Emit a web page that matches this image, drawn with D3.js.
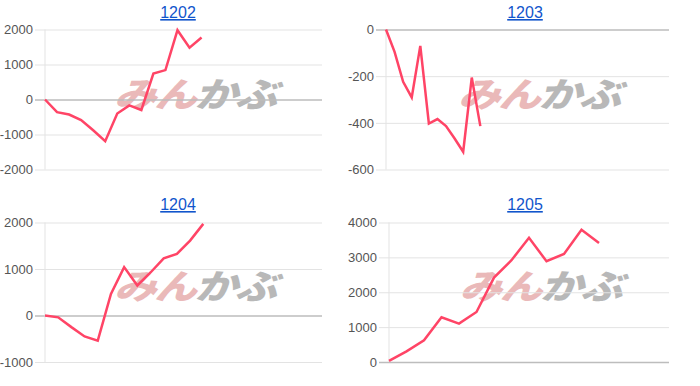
<!DOCTYPE html>
<html>
<head>
<meta charset="utf-8">
<script src="https://cdn.jsdelivr.net/npm/d3@7"></script>
<style>
  body { margin: 0; background: #fff; }
  svg { font-family: "Liberation Sans", Arial, sans-serif; }
</style>
</head>
<body>
<svg id="chart" width="700" height="386"></svg>
<script>
// chart titles and values
const titles = ["1202", "1203", "1204", "1205"];
const values1202 = [0, -360, -430, -590, -880, -1190, -400, -170, -300, 740, 840, 1980, 1480, 1770];
const values1203 = [0, -96, -224, -291, -70, -403, -384, -414, -467, -524, -206, -414];
const values1204 = [0, -40, -250, -450, -540, 465, 1040, 645, 925, 1230, 1325, 1610, 1970];
const values1205 = [30, 305, 620, 1280, 1100, 1435, 2420, 2920, 3560, 2890, 3100, 3790, 3410];
const xSlots = [23, 33, 21, 16];
const yDomains = [[-2000, 2000], [-600, 0], [-1000, 2000], [0, 4000]];
const yTicks = [
  [-2000, -1000, 0, 1000, 2000],
  [-600, -400, -200, 0],
  [-1000, 0, 1000, 2000],
  [0, 1000, 2000, 3000, 4000]
];

const series = [values1202, values1203, values1204, values1205];
const boxes = [
  { left: 45, right: 322, top: 29.5, bottom: 169.5, titleX: 178, titleY: 18 },
  { left: 386, right: 669, top: 29.5, bottom: 169.5, titleX: 525, titleY: 18 },
  { left: 45, right: 322, top: 222.5, bottom: 362, titleX: 178, titleY: 210 },
  { left: 389, right: 669, top: 222.5, bottom: 362, titleX: 525, titleY: 210 }
];

const svg = d3.select("#chart");

series.forEach((vals, i) => {
  const b = boxes[i];
  const g = svg.append("g");
  const x = d3.scaleLinear().domain([0, xSlots[i]]).range([b.left, b.right]);
  const y = d3.scaleLinear().domain(yDomains[i]).range([b.bottom, b.top]);

  // watermark (behind grid)
  const cx = (b.left + b.right) / 2 + 11, cy = (b.top + b.bottom) / 2 + 7;
  const wm = g.append("text")
    .attr("transform", `translate(${cx},${cy}) skewX(-18) scale(1.12,0.9)`)
    .attr("text-anchor", "middle")
    .style("font-family", "'Noto Sans CJK JP', sans-serif")
    .style("font-weight", "900")
    .style("font-size", "38px")
    .attr("letter-spacing", "-2");
  wm.append("tspan").attr("fill", "#eab9b9").text("みん");
  wm.append("tspan").attr("fill", "#b8b8b8").text("かぶ");

  // gridlines + tick labels
  const axis = d3.axisLeft(y).tickValues(yTicks[i]).tickSize(-(b.right - b.left + 10)).tickPadding(2)
    .tickFormat(d => String(d));
  const ag = g.append("g").attr("transform", `translate(${b.left - 10},0)`).call(axis);
  ag.select(".domain").remove();
  ag.selectAll(".tick line")
    .attr("stroke", d => d === 0 ? "#bdbdbd" : "#e3e3e3")
    .attr("stroke-width", d => d === 0 ? 1.5 : 1);
  ag.selectAll(".tick text").attr("fill", "#555").style("font-size", "13px");

  // left axis line
  g.append("line")
    .attr("x1", b.left).attr("x2", b.left)
    .attr("y1", b.top).attr("y2", b.bottom)
    .attr("stroke", "#e3e3e3");

  // line
  g.append("path")
    .datum(vals)
    .attr("fill", "none")
    .attr("stroke", "#ff4466")
    .attr("stroke-width", 2.5)
    .attr("d", d3.line().x((d, j) => x(j)).y(d => y(d)));

  // title
  g.append("text")
    .attr("x", b.titleX).attr("y", b.titleY)
    .attr("text-anchor", "middle")
    .attr("fill", "#1155cc")
    .style("font-size", "16px")
    .style("text-decoration", "underline")
    .text(titles[i]);
});
</script>
</body>
</html>
